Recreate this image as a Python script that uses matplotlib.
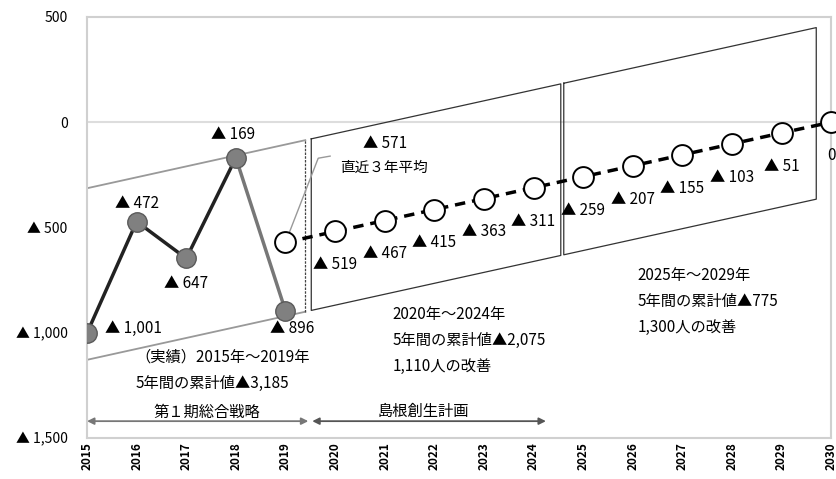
import numpy as np
import matplotlib.pyplot as plt

plt.rcParams['font.family'] = ['Noto Sans CJK JP', 'DejaVu Sans']

# 実績
years_actual = [2015, 2016, 2017, 2018, 2019]
actual = [-1001, -472, -647, -169, -896]
# 推計（直近３年平均から2030年に0）
years_plan = list(range(2019, 2031))
plan = [-571, -519, -467, -415, -363, -311, -259, -207, -155, -103, -51, 0]

yticks = [500, 0, -500, -1000, -1500]
ytick_labels = ['500', '0', '▲ 500', '▲ 1,000', '▲ 1,500']
xticks = list(range(2015, 2031))

# 期間の枠（x の範囲）
periods = [(2015, 2019.4), (2019.52, 2024.55), (2024.61, 2029.7)]
band_top, band_bottom = 465, -350

notes_1 = ['（実績）2015年～2019年', '5年間の累計値▲3,185']
notes_2 = ['2020年～2024年', '5年間の累計値▲2,075', '1,110人の改善']
notes_3 = ['2025年～2029年', '5年間の累計値▲775', '1,300人の改善']


def fmt(v):
    return '0' if v == 0 else '▲ {:,}'.format(abs(v))


fig = plt.figure(figsize=(8.37, 4.79), dpi=100)
ax = fig.add_axes([0.104, 0.0856, 0.889, 0.879])

ax.set_xlim(2015, 2030)
ax.set_ylim(-1500, 500)
ax.set_yticks(yticks)
ax.set_yticklabels(ytick_labels, fontsize=10)
ax.set_xticks(xticks)
ax.set_xticklabels([str(y) for y in xticks], rotation=90, fontsize=8.5,
                   fontweight='bold')
ax.tick_params(length=0)
ax.tick_params(axis='x', pad=3)
ax.tick_params(axis='y', pad=14)
for s in ax.spines.values():
    s.set_color('#d0d0d0')
    s.set_linewidth(1.5)
ax.axhline(0, color='#dddddd', lw=1.5, zorder=0)

# trend for the bands
slope = (plan[-1] - plan[0]) / (years_plan[-1] - years_plan[0])


def trend(x):
    return plan[0] + slope * (np.asarray(x) - years_plan[0])


for i, (x0, x1) in enumerate(periods):
    xs = np.array([x0, x1])
    top = trend(xs) + band_top
    bot = trend(xs) + band_bottom
    if i == 0:
        ax.plot(xs, top, color='#999999', lw=1.3, zorder=2)
        ax.plot(xs, bot, color='#999999', lw=1.3, zorder=2)
        ax.plot([x1, x1], [bot[1], top[1]], color='#444444', lw=0.9,
                ls=(0, (2, 1)), zorder=2)
    else:
        ax.plot([x0, x1, x1, x0, x0], [top[0], top[1], bot[1], bot[0], top[0]],
                color='#333333', lw=0.9, zorder=2)

# 実績の線
ax.plot(years_actual[:4], actual[:4], color='#222222', lw=2.5, zorder=3)
ax.plot(years_actual[3:], actual[3:], color='#777777', lw=2.5, zorder=3)
ax.plot(years_actual, actual, ls='none', marker='o', ms=14,
        mfc='#808080', mec='#5a5a5a', mew=1, zorder=4)

# 推計の線
ax.plot(years_plan, plan, color='black', lw=2.5, ls=(0, (3, 2)), zorder=3)
ax.plot(years_plan, plan, ls='none', marker='o', ms=15, mfc='white',
        mec='black', mew=1.4, zorder=5, clip_on=False)

# 実績ラベル
act_off = [(13, 3, 'left'), (0, 13, 'center'), (0, -18, 'center'),
           (-2, 17, 'center'), (5, -13, 'center')]
for x, v, (dx, dy, ha) in zip(years_actual, actual, act_off):
    ax.annotate(fmt(v), (x, v), xytext=(dx, dy), textcoords='offset points',
                ha=ha, va='center', fontsize=11, zorder=6)

# 推計ラベル
for x, v in zip(years_plan[1:], plan[1:]):
    ax.annotate(fmt(v), (x, v), xytext=(0, -24), textcoords='offset points',
                ha='center', va='center', fontsize=11, zorder=6)

# 直近３年平均
ax.text(2020.57, -100, fmt(plan[0]), fontsize=11, va='center', ha='left')
ax.text(2020.11, -218, '直近３年平均', fontsize=10.5, va='center', ha='left')
ax.plot([years_plan[0], 2019.66, 2019.9], [plan[0], -171, -161],
        color='#999999', lw=1, zorder=2)

# テキスト
for k, t in enumerate(notes_1):
    ax.text(2015.97, -1115 - 128 * k, t, fontsize=11, va='center', ha='left')
for k, t in enumerate(notes_2):
    ax.text(2021.16, -911 - 125 * k, t, fontsize=11, va='center', ha='left')
for k, t in enumerate(notes_3):
    ax.text(2026.10, -726 - 124 * k, t, fontsize=11, va='center', ha='left')

# 計画期間の矢印
ax.annotate('', xy=(2015, -1420), xytext=(2019.46, -1420),
            arrowprops=dict(arrowstyle='<|-|>', color='#777777', lw=1.3,
                            mutation_scale=10, shrinkA=0, shrinkB=0))
ax.annotate('', xy=(2019.54, -1420), xytext=(2024.25, -1420),
            arrowprops=dict(arrowstyle='<|-|>', color='#555555', lw=1.3,
                            mutation_scale=10, shrinkA=0, shrinkB=0))
ax.text(2017.42, -1376, '第１期総合戦略', fontsize=11, ha='center', va='center')
ax.text(2021.78, -1376, '島根創生計画', fontsize=11, ha='center', va='center')

fig.savefig('out.png', dpi=100, facecolor='white')
